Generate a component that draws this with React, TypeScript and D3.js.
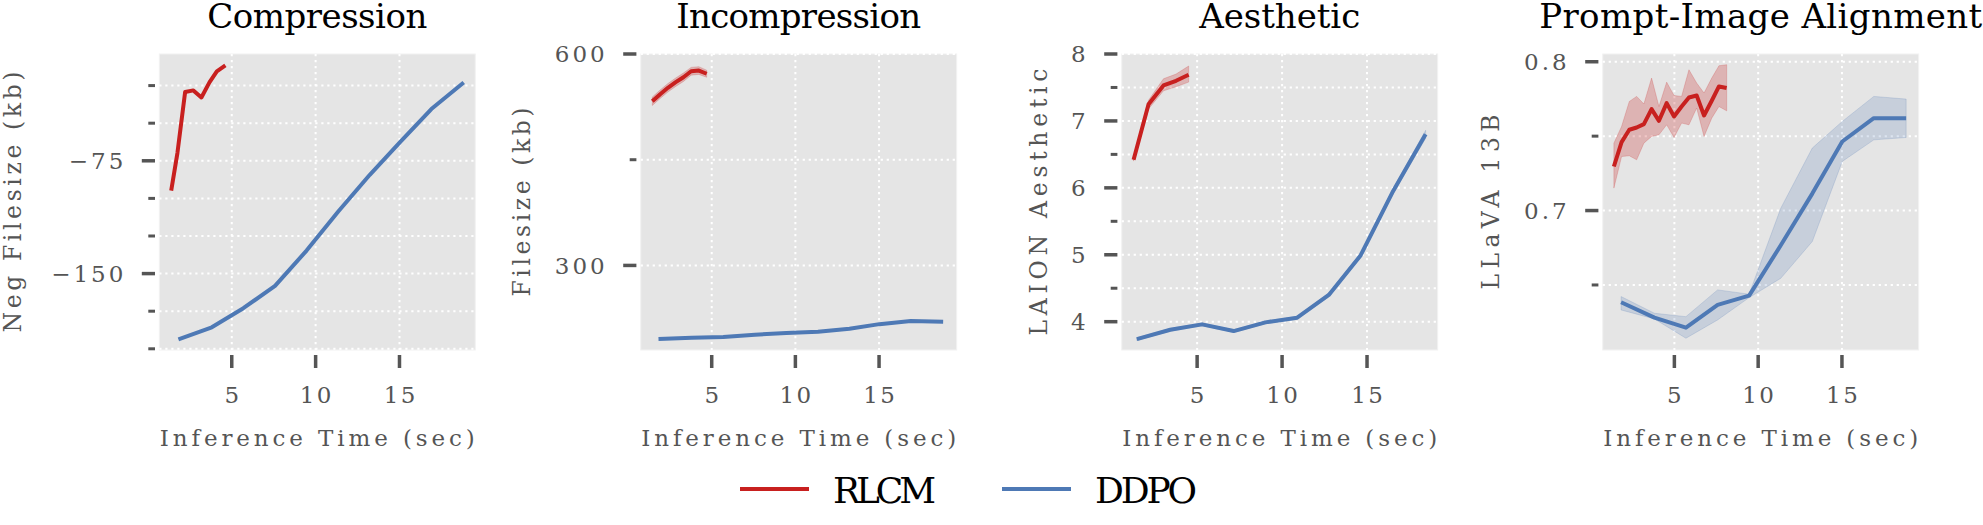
import React from 'react';
import * as d3 from 'd3';

// ---------- data ----------
const TITLES = ['Compression', 'Incompression', 'Aesthetic', 'Prompt-Image Alignment'];
const Y_LABELS = ['Neg Filesize (kb)', 'Filesize (kb)', 'LAION Aesthetic', 'LLaVA 13B'];
const X_LABEL = 'Inference Time (sec)';
const SERIES = ['RLCM', 'DDPO'];
const X_TICKS = [5, 10, 15];

// Compression
const rlcmTimeComp = [1.39, 1.76, 2.22, 2.71, 3.19, 3.67, 4.11, 4.62];
const rlcmComp = [-94.8, -69.9, -29.3, -28.2, -32.9, -22.9, -15.6, -11.6];
const ddpoTime = [1.82, 3.81, 5.69, 7.58, 9.46, 11.35, 13.23, 15.02, 16.9, 18.83];
const ddpoComp = [-193.7, -185.7, -173.0, -158.2, -134.7, -108.7, -84.3, -62.8, -40.6, -22.9];

// Incompression
const rlcmTimeInc = [1.45, 1.92, 2.38, 2.85, 3.31, 3.77, 4.23, 4.7];
const rlcmInc = [533, 543, 552, 560, 567, 575.5, 576.5, 572];
const rlcmIncLo = [527, 537, 546, 554, 561, 570, 571, 567];
const rlcmIncHi = [539, 549, 558, 566, 573, 581, 582, 577];
const ddpoInc = [195.6, 197.4, 198.4, 201.7, 204.0, 205.9, 210.1, 216.7, 221.0, 220.0];

// Aesthetic
const rlcmTimeAes = [1.26, 2.14, 3.02, 3.76, 4.5];
const rlcmAes = [6.42, 7.25, 7.53, 7.6, 7.69];
const rlcmAesLo = [6.4, 7.18, 7.45, 7.51, 7.58];
const rlcmAesHi = [6.44, 7.31, 7.63, 7.7, 7.82];
const ddpoTimeAes = [1.45, 3.42, 5.29, 7.15, 9.02, 10.89, 12.75, 14.62, 16.49, 18.45];
const ddpoAes = [3.74, 3.88, 3.96, 3.86, 3.99, 4.06, 4.4, 4.99, 5.93, 6.8];
const ddpoAesLo = [3.72, 3.86, 3.94, 3.84, 3.97, 4.04, 4.37, 4.96, 5.89, 6.74];
const ddpoAesHi = [3.76, 3.9, 3.98, 3.88, 4.01, 4.08, 4.43, 5.02, 5.97, 6.86];

// Prompt-Image Alignment
const rlcmTimeAlign = [1.39, 1.85, 2.31, 2.75, 3.18, 3.64, 4.08, 4.54, 4.98, 5.43, 5.87, 6.33, 6.77, 7.23, 7.66, 8.12];
const rlcmAlign = [0.7296, 0.746, 0.7543, 0.7558, 0.7581, 0.7682, 0.7603, 0.7722, 0.7632, 0.7699, 0.776, 0.7773, 0.7639, 0.7738, 0.7834, 0.7823];
const rlcmAlignHi = [0.7453, 0.7565, 0.7733, 0.7767, 0.7716, 0.789, 0.7699, 0.7863, 0.7773, 0.7767, 0.7946, 0.7857, 0.779, 0.789, 0.7973, 0.798];
const rlcmAlignLo = [0.7151, 0.7363, 0.7368, 0.7341, 0.7453, 0.7498, 0.7509, 0.7576, 0.7491, 0.7588, 0.7576, 0.7689, 0.7498, 0.7621, 0.7699, 0.767];
const ddpoAlign = [0.6384, 0.6281, 0.6213, 0.6366, 0.6428, 0.6767, 0.7114, 0.7464, 0.7621, 0.7621];
const ddpoAlignHi = [0.6422, 0.631, 0.6287, 0.6467, 0.6438, 0.7016, 0.742, 0.7599, 0.7767, 0.7749];
const ddpoAlignLo = [0.6332, 0.6272, 0.6142, 0.6265, 0.6415, 0.6545, 0.6792, 0.733, 0.7475, 0.7491];

// ticks
const Y_MAJOR = [[-75, -150], [300, 600], [4, 5, 6, 7, 8], [0.7, 0.8]];
const Y_MINOR = [[-25, -50, -100, -125, -175, -200], [450], [4.5, 5.5, 6.5, 7.5], [0.65, 0.75]];
const Y_TICK_LABELS = [['−75', '−150'], ['300', '600'], ['4', '5', '6', '7', '8'], ['0.7', '0.8']];

// ---------- style / layout ----------
const W = 1983, H = 525;
const TOP = 54, BOTTOM = 350, PW = 316;
const LEFTS = [159.3, 640.7, 1121.7, 1602.7];
const X_DOMAINS = [[0.68, 19.52], [0.756, 19.64], [0.56, 19.16], [0.723, 19.58]];
const Y_DOMAINS = [[-200.8, -4], [180, 600], [3.577, 8], [0.6063, 0.8052]];
const TITLE_W = [220, 245, 161, 443];
const YLAB_W = [261, 189, 267, 175];
const YLAB_X = [20.6, 529.5, 1047.2, 1499];
const RED = '#C8201F';
const BLUE = '#4E79B5';
const BG = '#E5E5E5';
const TICK_C = '#555555';
const FONT = '"DejaVu Serif", serif';

type S = { x: number[]; y: number[]; lo?: number[]; hi?: number[]; color: string };

const PANEL_SERIES: S[][] = [
  [
    { x: rlcmTimeComp, y: rlcmComp, color: RED },
    { x: ddpoTime, y: ddpoComp, color: BLUE },
  ],
  [
    { x: rlcmTimeInc, y: rlcmInc, lo: rlcmIncLo, hi: rlcmIncHi, color: RED },
    { x: ddpoTime, y: ddpoInc, color: BLUE },
  ],
  [
    { x: rlcmTimeAes, y: rlcmAes, lo: rlcmAesLo, hi: rlcmAesHi, color: RED },
    { x: ddpoTimeAes, y: ddpoAes, lo: ddpoAesLo, hi: ddpoAesHi, color: BLUE },
  ],
  [
    { x: rlcmTimeAlign, y: rlcmAlign, lo: rlcmAlignLo, hi: rlcmAlignHi, color: RED },
    { x: ddpoTime, y: ddpoAlign, lo: ddpoAlignLo, hi: ddpoAlignHi, color: BLUE },
  ],
];

function Panel({ i }: { i: number }) {
  const L = LEFTS[i];
  const x = d3.scaleLinear().domain(X_DOMAINS[i]).range([L, L + PW]);
  const y = d3.scaleLinear().domain(Y_DOMAINS[i]).range([BOTTOM, TOP]);
  const [y0, y1] = Y_DOMAINS[i];
  const inY = (v: number) => v >= y0 - 1e-9 && v <= y1 + 1e-9;
  const gridY = [...Y_MAJOR[i], ...Y_MINOR[i]].filter(inY);
  const cx = L + PW / 2;
  const cy = (TOP + BOTTOM) / 2;
  return (
    <g>
      <rect x={L} y={TOP} width={PW} height={BOTTOM - TOP} fill={BG} stroke="#F2F2F2" strokeWidth={1} />
      {gridY.map((v) => (
        <line key={'gy' + v} x1={L} x2={L + PW} y1={y(v)} y2={y(v)} stroke="#fff" strokeWidth={2} strokeDasharray="2.2,3.8" />
      ))}
      {X_TICKS.map((v) => (
        <line key={'gx' + v} x1={x(v)} x2={x(v)} y1={TOP} y2={BOTTOM} stroke="#fff" strokeWidth={2} strokeDasharray="2.2,3.8" />
      ))}
      {PANEL_SERIES[i].map((s, k) => {
        const pts = s.x.map((xv, j) => j);
        const band = s.lo && s.hi
          ? d3.area<number>().x((j) => x(s.x[j])).y0((j) => y(s.lo![j])).y1((j) => y(s.hi![j]))(pts)
          : null;
        const line = d3.line<number>().x((j) => x(s.x[j])).y((j) => y(s.y[j]))(pts);
        return (
          <g key={k}>
            {band && <path d={band} fill={s.color} fillOpacity={s.color === RED ? 0.25 : 0.2} stroke={s.color} strokeOpacity={0.2} strokeWidth={1} />}
            <path d={line || ''} fill="none" stroke={s.color} strokeWidth={4} strokeLinejoin="round" />
          </g>
        );
      })}
      {/* y ticks */}
      {Y_MAJOR[i].map((v, j) => (
        <g key={'ym' + v}>
          <line x1={L - 17.5} x2={L - 4.3} y1={y(v)} y2={y(v)} stroke={TICK_C} strokeWidth={3.5} />
          <text x={L - 36 + 3} y={y(v) + 8.4} textAnchor="end" fontFamily={FONT} fontSize={23} fill={TICK_C} letterSpacing={3}>
            {Y_TICK_LABELS[i][j]}
          </text>
        </g>
      ))}
      {Y_MINOR[i].filter(inY).map((v) => (
        <line key={'yn' + v} x1={L - 11} x2={L - 4.3} y1={y(v)} y2={y(v)} stroke={TICK_C} strokeWidth={3} />
      ))}
      {/* x ticks */}
      {X_TICKS.map((v) => (
        <g key={'xt' + v}>
          <line x1={x(v)} x2={x(v)} y1={355} y2={368} stroke={TICK_C} strokeWidth={3.5} />
          <text x={x(v) + 1.2} y={403.3} textAnchor="middle" fontFamily={FONT} fontSize={23} fill={TICK_C} letterSpacing={2.4}>
            {String(v)}
          </text>
        </g>
      ))}
      {/* labels */}
      <text x={cx} y={446} textAnchor="middle" fontFamily={FONT} fontSize={23} fill={TICK_C} textLength={315} lengthAdjust="spacing">
        {X_LABEL}
      </text>
      <text transform={`translate(${YLAB_X[i]},${cy}) rotate(-90)`} textAnchor="middle" fontFamily={FONT} fontSize={23.5} fill={TICK_C} textLength={YLAB_W[i]} lengthAdjust="spacing">
        {Y_LABELS[i]}
      </text>
      <text x={cx} y={28.3} textAnchor="middle" fontFamily={FONT} fontSize={34} fill="#000" textLength={TITLE_W[i]} lengthAdjust="spacing">
        {TITLES[i]}
      </text>
    </g>
  );
}

export default function App() {
  const legend = [
    { name: SERIES[0], color: RED, x1: 740, x2: 809, tx: 833, tw: 103 },
    { name: SERIES[1], color: BLUE, x1: 1002, x2: 1071, tx: 1095, tw: 102 },
  ];
  return (
    <svg width={W} height={H} style={{ position: 'absolute', left: 0, top: 0, background: '#fff' }}>
      <rect x={0} y={0} width={W} height={H} fill="#fff" />
      {[0, 1, 2, 3].map((i) => (
        <Panel key={i} i={i} />
      ))}
      {legend.map((l) => (
        <g key={l.name}>
          <line x1={l.x1} x2={l.x2} y1={489} y2={489} stroke={l.color} strokeWidth={4} />
          <text x={l.tx} y={503.3} fontFamily={FONT} fontSize={36} fill="#000" textLength={l.tw} lengthAdjust="spacing">
            {l.name}
          </text>
        </g>
      ))}
    </svg>
  );
}
